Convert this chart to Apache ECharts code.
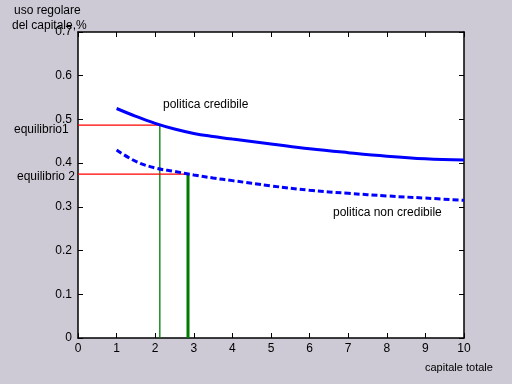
<!DOCTYPE html>
<html>
<head>
<meta charset="utf-8">
<script src="https://cdn.jsdelivr.net/npm/echarts@6/dist/echarts.min.js"></script>
<style>
html,body{margin:0;padding:0;background:#cdcad6;}
#c{width:512px;height:384px;}
</style>
</head>
<body>
<div id="c"></div>
<script>
// Data
var xCredibile = [1, 1.5, 2, 2.5, 3, 3.5, 4, 5, 6, 7, 8, 9, 10];
var yCredibile = [0.525, 0.507, 0.491, 0.478, 0.468, 0.461, 0.455, 0.444, 0.433, 0.424, 0.416, 0.410, 0.407];
var xNonCredibile = [1, 1.5, 2, 2.5, 3, 3.5, 4, 5, 6, 7, 8, 9, 10];
var yNonCredibile = [0.430, 0.404, 0.389, 0.381, 0.373, 0.366, 0.360, 0.348, 0.338, 0.331, 0.325, 0.320, 0.315];
var equilibrio1 = [2.12, 0.487];
var equilibrio2 = [2.85, 0.375];
var xTicks = [0,1,2,3,4,5,6,7,8,9,10];
var yTicks = [0,0.1,0.2,0.3,0.4,0.5,0.6,0.7];

function pairs(xs, ys){ return xs.map(function(x,i){ return [x, ys[i]]; }); }

var chart = echarts.init(document.getElementById('c'));
var font = 'Liberation Sans';
function axisCommon(){
  return {
    axisLine:{show:true, onZero:false, lineStyle:{color:'#000', width:1.5}},
    axisTick:{show:true, inside:true, length:5, lineStyle:{color:'#000', width:1}},
    splitLine:{show:false}
  };
}
chart.setOption({
  backgroundColor:'#cdcad6',
  animation:false,
  grid:{left:78, right:48, top:32, bottom:46, show:true, backgroundColor:'#ffffff', borderWidth:0},
  xAxis:[
    Object.assign({type:'value', min:0, max:10, interval:1, position:'bottom',
      axisLabel:{color:'#000', fontFamily:font, fontSize:12, margin:5,
        formatter:function(v){return xTicks.indexOf(v)>=0 ? String(v) : '';}}}, axisCommon()),
    Object.assign({type:'value', min:0, max:10, interval:1, position:'top',
      axisLabel:{show:false}}, axisCommon())
  ],
  yAxis:[
    Object.assign({type:'value', min:0, max:0.7, interval:0.1, position:'left',
      axisLabel:{color:'#000', fontFamily:font, fontSize:12, margin:6,
        formatter:function(v){ return v===0 ? '0' : v.toFixed(1); }}}, axisCommon()),
    Object.assign({type:'value', min:0, max:0.7, interval:0.1, position:'right',
      axisLabel:{show:false}}, axisCommon())
  ],
  series:[
    {type:'line', data:pairs(xCredibile, yCredibile), smooth:0.4, showSymbol:false,
      lineStyle:{color:'#0000ff', width:3}, z:3},
    {type:'line', data:pairs(xNonCredibile, yNonCredibile), smooth:0.4, showSymbol:false,
      lineStyle:{color:'#0000ff', width:3, type:[6,3]}, z:3},
    {type:'line', data:[[0, equilibrio1[1]],[equilibrio1[0], equilibrio1[1]]], showSymbol:false,
      lineStyle:{color:'#ff0000', width:1.3}, z:2},
    {type:'line', data:[[equilibrio1[0], 0],[equilibrio1[0], equilibrio1[1]]], showSymbol:false,
      lineStyle:{color:'#007a00', width:1.3}, z:2},
    {type:'line', data:[[0, equilibrio2[1]],[equilibrio2[0], equilibrio2[1]]], showSymbol:false,
      lineStyle:{color:'#ff0000', width:1.3}, z:2},
    {type:'line', data:[[equilibrio2[0], 0],[equilibrio2[0], equilibrio2[1]]], showSymbol:false,
      lineStyle:{color:'#007a00', width:3}, z:2}
  ],
  graphic:[
    {type:'text', left:14, top:5, style:{text:'uso regolare', font:'12px "Liberation Sans"', fill:'#000'}},
    {type:'text', left:12, top:20, style:{text:'del capitale,%', font:'12px "Liberation Sans"', fill:'#000'}},
    {type:'text', left:14, top:124, style:{text:'equilibrio1', font:'12px "Liberation Sans"', fill:'#000'}},
    {type:'text', left:17, top:171, style:{text:'equilibrio 2', font:'12px "Liberation Sans"', fill:'#000'}},
    {type:'text', left:163, top:99, style:{text:'politica credibile', font:'12px "Liberation Sans"', fill:'#000'}},
    {type:'text', left:333, top:207, style:{text:'politica non credibile', font:'12px "Liberation Sans"', fill:'#000'}},
    {type:'text', left:425, top:362, style:{text:'capitale totale', font:'11px "Liberation Sans"', fill:'#000'}}
  ]
});
</script>
</body>
</html>
